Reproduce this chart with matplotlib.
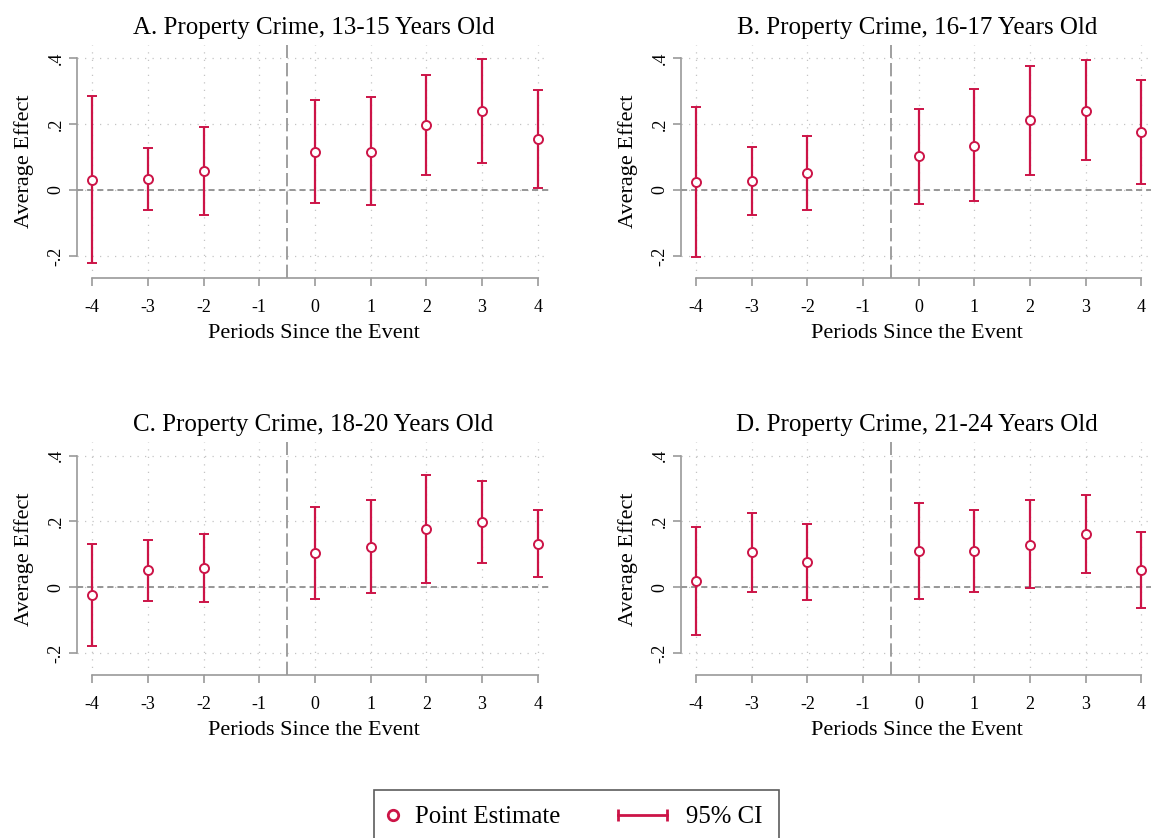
import matplotlib
matplotlib.use('Agg')
import matplotlib.pyplot as plt
from matplotlib.lines import Line2D
from matplotlib.legend_handler import HandlerBase, HandlerLine2D
import numpy as np

plt.rcParams['font.family'] = ['Liberation Serif', 'DejaVu Serif']
plt.rcParams['axes.unicode_minus'] = False

# event-study estimates, property crime by age group
periods = [-4, -3, -2, 0, 1, 2, 3, 4]

titles = ['A. Property Crime, 13-15 Years Old',
          'B. Property Crime, 16-17 Years Old',
          'C. Property Crime, 18-20 Years Old',
          'D. Property Crime, 21-24 Years Old']

est_a = [0.030, 0.033, 0.057, 0.115, 0.116, 0.196, 0.239, 0.155]
lo_a = [-0.222, -0.060, -0.075, -0.039, -0.046, 0.045, 0.082, 0.007]
hi_a = [0.284, 0.128, 0.191, 0.274, 0.282, 0.348, 0.397, 0.302]

est_b = [0.024, 0.027, 0.051, 0.103, 0.135, 0.211, 0.241, 0.175]
lo_b = [-0.202, -0.075, -0.062, -0.041, -0.032, 0.047, 0.090, 0.017]
hi_b = [0.252, 0.130, 0.164, 0.247, 0.305, 0.376, 0.394, 0.333]

est_c = [-0.022, 0.053, 0.059, 0.103, 0.124, 0.178, 0.198, 0.133]
lo_c = [-0.179, -0.040, -0.043, -0.036, -0.016, 0.012, 0.073, 0.031]
hi_c = [0.133, 0.145, 0.161, 0.243, 0.265, 0.341, 0.324, 0.236]

est_d = [0.020, 0.107, 0.077, 0.111, 0.111, 0.130, 0.162, 0.052]
lo_d = [-0.143, -0.014, -0.038, -0.035, -0.013, -0.003, 0.044, -0.064]
hi_d = [0.184, 0.227, 0.192, 0.256, 0.235, 0.264, 0.280, 0.169]

xticks = [-4, -3, -2, -1, 0, 1, 2, 3, 4]
yticks = [-0.2, 0, 0.2, 0.4]
ytick_labels = ['-.2', '0', '.2', '.4']

red = '#CC1447'
axis_gray = '#9a9a9a'
ref_gray = '#8f8f8f'
grid_gray = '#c4c4c4'

W, H = 1151, 838
fig = plt.figure(figsize=(W / 100, H / 100), dpi=100)


def px_axes(left, top, right, bottom):
    return fig.add_axes([left / W, 1 - bottom / H, (right - left) / W, (bottom - top) / H])


boxes = [(77, 45, 550, 278), (680.7, 45, 1153.7, 278),
         (77, 442.4, 550, 675.4), (680.7, 442.4, 1153.7, 675.4)]
series = [(est_a, lo_a, hi_a), (est_b, lo_b, hi_b),
          (est_c, lo_c, hi_c), (est_d, lo_d, hi_d)]

for box, title, (est, lo, hi) in zip(boxes, titles, series):
    ax = px_axes(*box)
    est = np.array(est)
    yerr = [est - np.array(lo), np.array(hi) - est]

    ax.set_xlim(-4.275, 4.221)
    ax.set_ylim(-0.267, 0.440)
    ax.set_xticks(xticks)
    ax.set_xticklabels([str(t) for t in xticks])
    ax.set_yticks(yticks)
    ax.set_yticklabels(ytick_labels, rotation=90, va='center')

    for s in ['top', 'right']:
        ax.spines[s].set_visible(False)
    for s in ['left', 'bottom']:
        ax.spines[s].set_color(axis_gray)
        ax.spines[s].set_linewidth(1.2)
    ax.spines['left'].set_bounds(-0.2, 0.4)
    ax.spines['bottom'].set_bounds(-4, 4)
    ax.tick_params(direction='out', length=5.8, width=1.2, color=axis_gray,
                   labelsize=13, labelcolor='black')
    ax.tick_params(axis='x', pad=9)
    ax.tick_params(axis='y', pad=3)

    ax.grid(True, ls=(0, (1, 5)), color=grid_gray, lw=0.9)
    ax.set_axisbelow(True)

    ax.axhline(0, color=ref_gray, lw=1.3, dashes=(3.4, 2.2), zorder=1)
    ax.axvline(-0.5, color=ref_gray, lw=1.2, dashes=(8, 3), zorder=1)

    ax.errorbar(periods, est, yerr=yerr, fmt='o', ms=6.5, mfc='white', mec=red,
                mew=1.4, ecolor=red, elinewidth=1.6, capsize=3.8, capthick=1.6,
                zorder=3)

    ax.set_title(title, fontsize=18, pad=8)
    ax.set_xlabel('Periods Since the Event', fontsize=16, va='center')
    ax.xaxis.set_label_coords(0.5, -(333 - 278) / 233)
    ax.set_ylabel('Average Effect', fontsize=16, va='center')
    ax.yaxis.set_label_coords(-(77 - 24) / 473, 0.5)


class NarrowMarkerHandler(HandlerLine2D):
    def legend_artist(self, legend, orig_handle, fontsize, handlebox):
        handlebox.width = 0.2 * fontsize
        return super().legend_artist(legend, orig_handle, fontsize, handlebox)


class CapBarHandler(HandlerBase):
    def create_artists(self, legend, orig_handle, xdescent, ydescent,
                       width, height, fontsize, trans):
        y = height / 2 - ydescent
        xs = [-xdescent, width - xdescent]
        bar = Line2D(xs, [y, y], color=red, lw=2.0)
        caps = Line2D(xs, [y, y], ls='none', marker='|', ms=9, mew=2.0, color=red)
        bar.set_transform(trans)
        caps.set_transform(trans)
        return [bar, caps]


pt_handle = Line2D([], [], ls='none', marker='o', ms=7.5, mfc='white', mec=red, mew=2.0)
ci_handle = Line2D([], [], color=red, lw=2.0)

leg = fig.legend([pt_handle, ci_handle], ['Point Estimate', '95% CI'],
                 handler_map={pt_handle: NarrowMarkerHandler(), ci_handle: CapBarHandler()},
                 loc='upper center', bbox_to_anchor=(576.5 / W, 1 - 790 / H),
                 ncol=2, fontsize=17.8, frameon=True, fancybox=False,
                 edgecolor='#333333', handlelength=1.95, handletextpad=0.8,
                 columnspacing=2.35, borderpad=0.65, borderaxespad=0)
leg.get_frame().set_linewidth(1.2)

fig.savefig('out.png', dpi=100)
